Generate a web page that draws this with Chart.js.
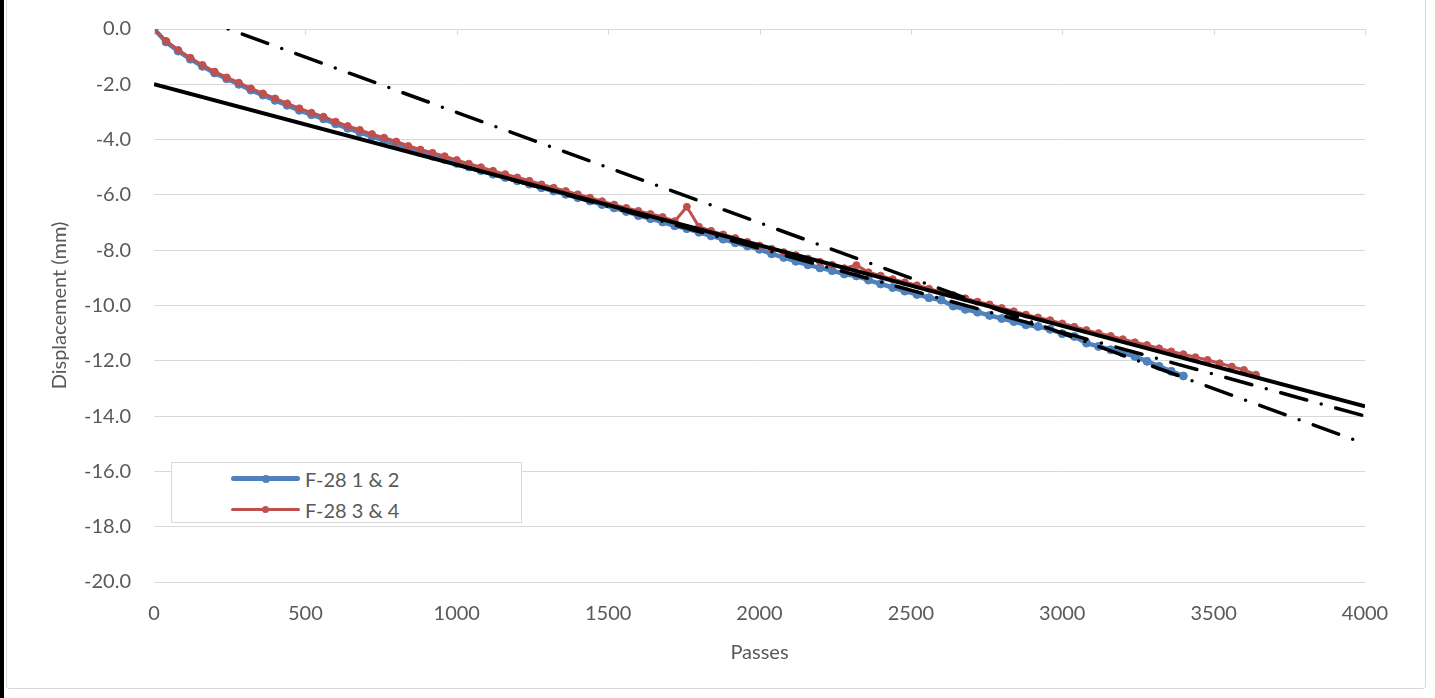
<!DOCTYPE html>
<html>
<head>
<meta charset="utf-8">
<script src="https://cdn.jsdelivr.net/npm/chart.js@4.4.1/dist/chart.umd.min.js"></script>
<style>
    body { margin: 0; background: #ffffff; overflow: hidden; }
    #wrap { position: relative; width: 1435px; height: 698px; }
    #edge { position: absolute; left: 0; top: 0; width: 4px; height: 698px; background: #000000; }
    #frame { position: absolute; left: 6px; top: -10px; width: 1418px; height: 697px; border: 1px solid #d9d9d9; border-radius: 3px; }
    #chart { position: absolute; left: 0; top: 0; }
    #chart-legend-container {
        position: absolute; left: 171px; top: 462px; width: 351px; height: 61px;
        box-sizing: border-box; border: 1px solid #d9d9d9; background: #ffffff;
        font-family: Lato, "Open Sans", sans-serif; font-size: 20px; color: #595959;
    }
</style>
</head>
<body>
<div id="wrap">
    <div id="edge"></div>
    <div id="frame"></div>
    <canvas id="chart" width="1435" height="698"></canvas>
    <div id="chart-legend-container"></div>
</div>
<script>
// passes at which readings were taken
const passes = [0, 40, 80, 120, 160, 200, 240, 280, 320, 360, 400, 440, 480, 520, 560, 600, 640, 680, 720, 760,
    800, 840, 880, 920, 960, 1000, 1040, 1080, 1120, 1160, 1200, 1240, 1280, 1320, 1360, 1400, 1440, 1480, 1520, 1560,
    1600, 1640, 1680, 1720, 1760, 1800, 1840, 1880, 1920, 1960, 2000, 2040, 2080, 2120, 2160, 2200, 2240, 2280, 2320, 2360,
    2400, 2440, 2480, 2520, 2560, 2600, 2640, 2680, 2720, 2760, 2800, 2840, 2880, 2920, 2960, 3000, 3040, 3080, 3120, 3160,
    3200, 3240, 3280, 3320, 3360, 3400, 3440, 3480, 3520, 3560, 3600, 3640];

const seriesNames = ['F-28 1 & 2', 'F-28 3 & 4'];
const seriesColors = ['#4f81bd', '#c0504d'];

// F-28 1 & 2 (0 .. 3400 passes)
const disp12 = [0, -0.47, -0.80, -1.09, -1.35, -1.59, -1.80, -2.00, -2.21, -2.39,
    -2.58, -2.76, -2.94, -3.10, -3.25, -3.43, -3.59, -3.74, -3.89, -4.03,
    -4.17, -4.33, -4.47, -4.60, -4.72, -4.86, -4.99, -5.12, -5.25, -5.37,
    -5.49, -5.61, -5.74, -5.86, -5.98, -6.10, -6.22, -6.35, -6.47, -6.60,
    -6.75, -6.86, -6.98, -7.12, -7.22, -7.35, -7.48, -7.60, -7.73, -7.85,
    -7.97, -8.13, -8.26, -8.40, -8.53, -8.64, -8.74, -8.86, -8.93, -9.08,
    -9.22, -9.35, -9.48, -9.60, -9.72, -9.80, -10.02, -10.14, -10.24, -10.36,
    -10.47, -10.58, -10.70, -10.76, -10.86, -11.02, -11.12, -11.36, -11.48, -11.60,
    -11.72, -11.84, -12.02, -12.20, -12.38, -12.55];

// F-28 3 & 4 (0 .. 3640 passes)
const disp34 = [0, -0.43, -0.76, -1.04, -1.30, -1.54, -1.75, -1.94, -2.15, -2.33,
    -2.51, -2.69, -2.87, -3.03, -3.17, -3.35, -3.51, -3.65, -3.80, -3.93,
    -4.07, -4.23, -4.36, -4.48, -4.60, -4.74, -4.87, -5.00, -5.13, -5.25,
    -5.37, -5.49, -5.62, -5.74, -5.86, -5.98, -6.10, -6.23, -6.35, -6.47,
    -6.58, -6.69, -6.80, -6.95, -6.43, -7.15, -7.30, -7.43, -7.56, -7.70,
    -7.83, -7.95, -8.07, -8.18, -8.30, -8.42, -8.53, -8.65, -8.54, -8.80,
    -8.92, -9.05, -9.16, -9.27, -9.39, -9.51, -9.62, -9.74, -9.86, -9.96,
    -10.09, -10.21, -10.33, -10.43, -10.53, -10.65, -10.77, -10.89, -11.00, -11.10,
    -11.22, -11.33, -11.43, -11.55, -11.66, -11.76, -11.87, -11.97, -12.09, -12.21,
    -12.33, -12.50];

// trend lines (end points)
const fitSolidX = [0, 4000];
const fitSolidY = [-2.0, -13.65];
const fitSteepX = [245, 4000];
const fitSteepY = [0, -15.0];
const fitLateX = [1000, 4000];
const fitLateY = [-4.9, -14.0];

const xTicks = [0, 500, 1000, 1500, 2000, 2500, 3000, 3500, 4000];
const yTicks = [0, -2, -4, -6, -8, -10, -12, -14, -16, -18, -20];

function toPoints(xs, ys) {
    return ys.map((y, i) => ({ x: xs[i], y: y }));
}

const HTMLLegendPlugin = {
    id: 'htmlLegend',
    afterUpdate(chart, args, options) {
        const box = document.getElementById(options.containerID);
        box.innerHTML = '';
        const ul = document.createElement('ul');
        ul.style.listStyle = 'none';
        ul.style.margin = 0;
        ul.style.padding = 0;

        seriesNames.forEach((name, i) => {
            const li = document.createElement('li');
            li.style.display = 'flex';
            li.style.alignItems = 'center';
            li.style.height = '31px';
            li.style.paddingLeft = '59px';

            // line sample with marker
            const lineSpan = document.createElement('span');
            const thick = i === 0 ? 5 : 3;
            lineSpan.style.position = 'relative';
            lineSpan.style.display = 'inline-block';
            lineSpan.style.width = '69px';
            lineSpan.style.height = thick + 'px';
            lineSpan.style.borderRadius = '3px';
            lineSpan.style.background = seriesColors[i];
            lineSpan.style.marginRight = '5px';

            const dot = document.createElement('span');
            const d = i === 0 ? 8 : 7;
            dot.style.position = 'absolute';
            dot.style.left = (34.5 - d / 2) + 'px';
            dot.style.top = (thick / 2 - d / 2) + 'px';
            dot.style.width = d + 'px';
            dot.style.height = d + 'px';
            dot.style.borderRadius = '50%';
            dot.style.background = seriesColors[i];
            lineSpan.appendChild(dot);

            const text = document.createElement('span');
            text.textContent = name;

            li.appendChild(lineSpan);
            li.appendChild(text);
            ul.appendChild(li);
        });
        box.appendChild(ul);
    }
};

// small tick marks hanging from the top gridline
const topTicksPlugin = {
    id: 'topTicks',
    afterDraw(chart) {
        const ctx = chart.ctx;
        const xs = chart.scales.x;
        const top = chart.chartArea.top;
        ctx.save();
        ctx.strokeStyle = '#d9d9d9';
        ctx.lineWidth = 1;
        xTicks.forEach(v => {
            const px = Math.round(xs.getPixelForValue(v)) + 0.5;
            ctx.beginPath();
            ctx.moveTo(px, top);
            ctx.lineTo(px, top + 6);
            ctx.stroke();
        });
        ctx.restore();
    }
};

const fontFamily = 'Lato, "Open Sans", sans-serif';

new Chart(document.getElementById('chart'), {
    type: 'line',
    data: {
        datasets: [
            {
                label: seriesNames[0],
                data: toPoints(passes, disp12),
                borderColor: seriesColors[0],
                backgroundColor: seriesColors[0],
                borderWidth: 4.5,
                pointRadius: 4,
                pointBorderWidth: 1,
                tension: 0,
                order: 2
            },
            {
                label: seriesNames[1],
                data: toPoints(passes, disp34),
                borderColor: seriesColors[1],
                backgroundColor: seriesColors[1],
                borderWidth: 3,
                pointRadius: 3.5,
                pointBorderWidth: 1,
                tension: 0,
                order: 1
            },
            {
                label: 'fit',
                data: toPoints(fitSolidX, fitSolidY),
                borderColor: '#000000',
                borderWidth: 4,
                pointRadius: 0,
                order: 0
            },
            {
                label: 'fit steep',
                data: toPoints(fitSteepX, fitSteepY),
                borderColor: '#000000',
                borderWidth: 3.5,
                borderDash: [0, 15, 27, 15],
                borderCapStyle: 'round',
                pointRadius: 0,
                order: 0
            },
            {
                label: 'fit late',
                data: toPoints(fitLateX, fitLateY),
                borderColor: '#000000',
                borderWidth: 3.5,
                borderDash: [27, 15, 0, 15],
                borderCapStyle: 'round',
                pointRadius: 0,
                order: 0
            }
        ]
    },
    plugins: [HTMLLegendPlugin, topTicksPlugin],
    options: {
        responsive: false,
        animation: false,
        devicePixelRatio: 1,
        layout: {
            autoPadding: false,
            padding: { left: 0, right: 70, top: 29, bottom: 0 }
        },
        plugins: {
            htmlLegend: { containerID: 'chart-legend-container' },
            legend: { display: false },
            tooltip: { enabled: false }
        },
        scales: {
            x: {
                type: 'linear',
                min: 0,
                max: 4000,
                afterBuildTicks: scale => { scale.ticks = xTicks.map(v => ({ value: v })); },
                afterFit: scale => { scale.height = 116; },
                grid: { display: false, drawTicks: false },
                border: { display: false },
                ticks: {
                    padding: 20,
                    color: '#595959',
                    font: { family: fontFamily, size: 20 },
                    maxRotation: 0,
                    callback: v => String(v)
                },
                title: {
                    display: true,
                    text: 'Passes',
                    color: '#595959',
                    font: { family: fontFamily, size: 20 },
                    padding: { top: 0, bottom: 33 }
                }
            },
            y: {
                min: -20,
                max: 0,
                afterBuildTicks: scale => { scale.ticks = yTicks.map(v => ({ value: v })); },
                afterFit: scale => {
                    scale.width = 154;
                    // the tick padding should not push the plot area down
                    scale.paddingTop = 12;
                    scale.paddingBottom = 12;
                },
                grid: { color: '#d9d9d9', lineWidth: 1, drawTicks: false },
                border: { display: false },
                ticks: {
                    padding: 23,
                    color: '#595959',
                    font: { family: fontFamily, size: 20 },
                    callback: v => v.toFixed(1)
                },
                title: {
                    display: true,
                    text: 'Displacement (mm)',
                    color: '#595959',
                    font: { family: fontFamily, size: 20 },
                    padding: { top: 48, bottom: 0 }
                }
            }
        }
    }
});
</script>
</body>
</html>
